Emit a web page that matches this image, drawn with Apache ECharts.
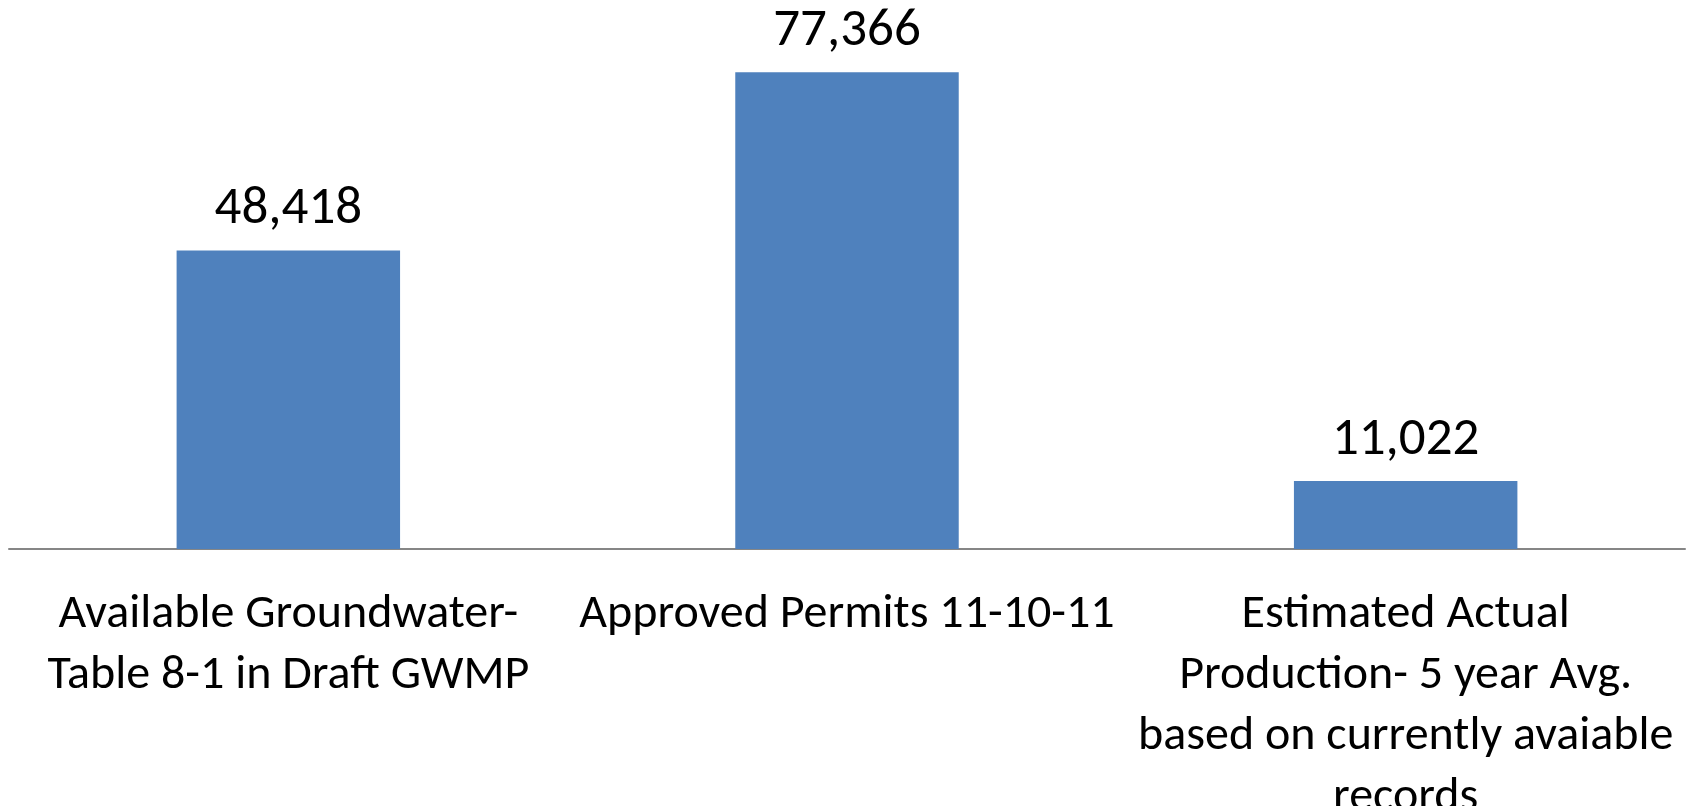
<!DOCTYPE html>
<html>
<head>
<meta charset="UTF-8">
<title>Groundwater</title>
<style type="text/css">
	* { margin: 0; padding: 0; }
	html, body { width: 100%; height: 100%; background: #fff; }
	#bar { width: 1689px; height: 806px; }
</style>
</head>
<body>
	<div id="bar"></div>
	<script src="https://cdn.jsdelivr.net/npm/echarts@6/dist/echarts.min.js" type="text/javascript" charset="utf-8"></script>
	<script type="text/javascript">
		// categories (line breaks as in the original)
		var categories = [
			'Available Groundwater-\nTable 8-1 in Draft GWMP',
			'Approved Permits 11-10-11',
			'Estimated Actual\nProduction- 5 year Avg.\nbased on currently avaiable\nrecords'
		];
		var values = [48418, 77366, 11022];

		var fontFam = 'Carlito, Calibri, Lato, sans-serif';
		var myChartBar = echarts.init(document.getElementById('bar'));
		var option = {
			animation: false,
			grid: {
				left: 9,
				right: 4,
				top: 56,
				bottom: 257,
				containLabel: false,
				outerBoundsMode: 'none'
			},
			xAxis: {
				type: 'category',
				data: categories,
				axisLine: { lineStyle: { color: '#868686', width: 2 } },
				axisTick: { show: false },
				axisLabel: {
					interval: 0,
					margin: 35,
					color: '#000',
					fontSize: 48,
					lineHeight: 61,
					fontFamily: fontFam,
					align: 'center'
				}
			},
			yAxis: {
				type: 'value',
				min: 0,
				max: 80000,
				show: false,
				splitLine: { show: false }
			},
			series: [{
				type: 'bar',
				data: values,
				barWidth: '40%',
				itemStyle: { color: '#4F81BD' },
				label: {
					show: true,
					position: 'top',
					distance: 14,
					color: '#000',
					fontSize: 53,
					fontFamily: fontFam,
					formatter: function(p) {
						return p.value.toLocaleString('en-US');
					}
				}
			}]
		};
		myChartBar.setOption(option);
	</script>
</body>
</html>
